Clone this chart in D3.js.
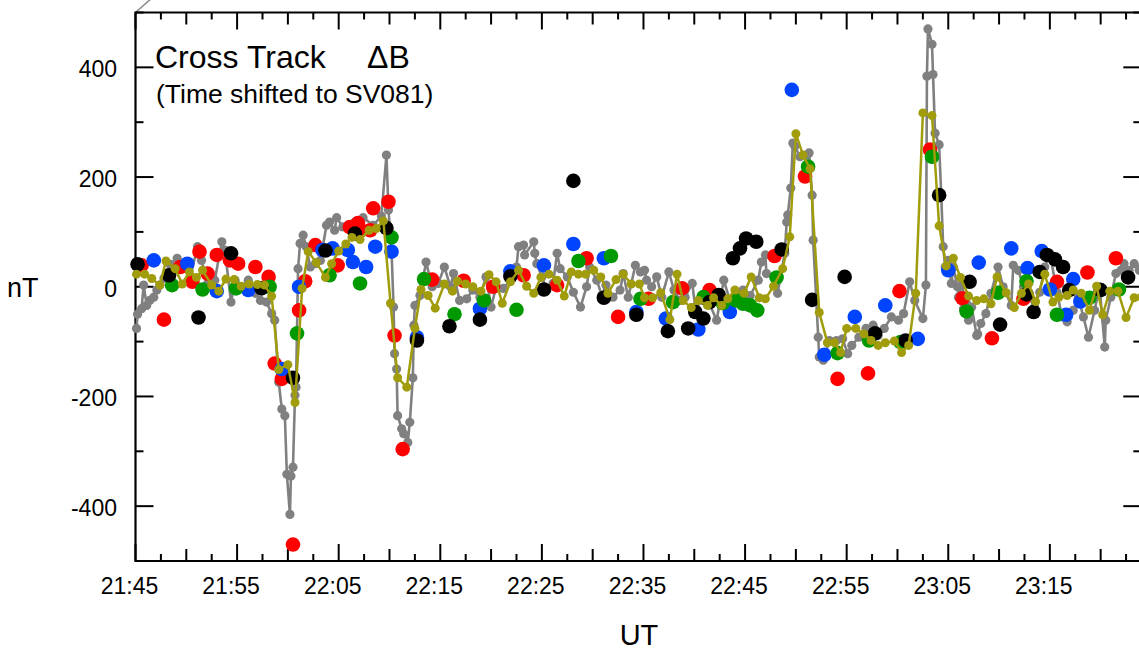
<!DOCTYPE html>
<html><head><meta charset="utf-8">
<script src="https://cdn.jsdelivr.net/npm/d3@7"></script>
<style>
html,body{margin:0;padding:0;background:#fff;}
svg{display:block;font-family:"Liberation Sans",Arial,sans-serif;}
</style></head>
<body><svg id="c" width="1139" height="652"></svg>
<script>
// time in minutes after 21:00 UT, value in nT
const graySeries = [[45.1,-76],[45.2,-50],[45.6,-40],[45.8,3],[46.1,-34],[46.4,-25],[46.8,-19],[47.1,-6],[47.4,3],[47.8,15],[48.4,41],[49.1,52],[49.7,37],[50.4,18],[51.1,73],[51.5,48],[52.1,6],[52.8,12],[53.5,82],[53.8,67],[54.4,-28],[54.8,12],[55.4,0],[56.1,12],[56.8,-12],[57.3,-25],[57.9,-28],[58.4,-49],[58.7,-61],[59.1,-174],[59.4,-223],[59.7,-235],[59.9,-342],[60.2,-415],[60.3,-345],[60.5,-329],[60.7,-198],[60.8,-183],[61.0,33],[61.2,79],[61.5,94],[61.8,73],[62.2,36],[62.7,42],[63.2,48],[63.8,112],[64.1,118],[64.6,103],[64.8,126],[65.4,109],[66.6,118],[67.4,126],[68.4,112],[69.2,129],[69.7,240],[69.9,140],[70.2,67],[70.4,-37],[70.5,-122],[70.7,-150],[70.8,-235],[71.2,-259],[71.4,-268],[71.8,-284],[72.0,-247],[72.3,-166],[72.4,-70],[72.5,-34],[73.0,-16],[73.6,45],[74.2,0],[74.8,6],[75.4,36],[76.0,0],[76.3,24],[76.9,-25],[77.6,-22],[78.2,-6],[78.9,-19],[79.5,18],[80.0,-37],[80.5,0],[81.2,-3],[81.9,12],[82.5,36],[82.7,73],[83.2,76],[83.3,58],[84.2,82],[84.3,61],[84.5,42],[85.0,18],[85.5,-6],[86.1,6],[86.5,61],[86.8,33],[87.5,18],[88.1,-10],[88.8,-37],[89.4,0],[89.7,36],[90.4,12],[90.9,-16],[91.3,3],[92.0,-19],[92.7,-6],[93.0,24],[93.5,-19],[94.2,39],[94.7,27],[95.1,30],[95.3,12],[95.8,0],[96.3,18],[96.8,-19],[97.5,27],[98.0,-6],[98.6,-25],[99.1,-19],[99.8,6],[100.1,-37],[100.8,-25],[101.5,-31],[102.2,-61],[102.9,12],[103.5,-25],[104.2,-12],[104.8,-6],[105.5,-16],[106.3,12],[106.6,45],[107.0,58],[107.1,24],[108.1,9],[108.2,-12],[108.9,61],[109.1,118],[109.2,131],[109.5,180],[109.7,262],[109.9,256],[110.4,237],[111.1,240],[111.3,244],[111.6,167],[111.7,85],[112.2,-92],[112.3,-128],[112.7,-134],[113.3,-98],[114.0,-98],[114.6,-95],[115.1,-122],[115.5,-107],[116.2,-92],[116.9,-76],[117.6,-70],[118.1,-89],[118.7,-76],[119.4,-55],[120.1,-61],[120.6,-49],[121.2,9],[121.7,-25],[122.5,-58],[122.8,3],[122.9,384],[123.0,470],[123.4,442],[123.5,387],[123.7,280],[124.1,259],[124.3,170],[124.5,73],[124.7,36],[125.0,48],[125.3,6],[125.5,36],[125.9,0],[126.0,-19],[126.4,12],[126.5,-40],[126.8,-31],[127.0,-61],[127.3,-37],[127.8,-89],[127.9,-86],[128.2,-67],[128.7,-49],[129.2,-12],[129.9,36],[130.4,0],[131.2,-34],[131.4,39],[131.9,30],[132.4,0],[132.9,-19],[133.5,-37],[134.0,-10],[134.5,36],[135.0,61],[135.7,-10],[136.2,-55],[136.7,-64],[137.3,-43],[137.8,-19],[138.3,-55],[138.8,-92],[139.4,-43],[139.9,0],[140.4,-110],[140.5,-61],[141.0,-19],[141.5,24],[142.0,30],[142.3,42],[142.8,30],[143.3,42],[143.8,30],[144.1,36]];

const oliveSeries = [[45.1,23],[45.9,23],[46.6,15],[47.4,3],[48.0,47],[48.9,33],[49.6,5],[50.3,27],[51.0,17],[51.6,30],[52.5,3],[53.2,-8],[53.9,14],[54.7,13],[55.4,1],[56.2,5],[57.0,4],[57.7,3],[58.4,-17],[59.1,-151],[60.0,-142],[60.7,-211],[61.4,-3],[62.0,64],[62.8,44],[63.7,17],[64.3,42],[65.0,65],[65.7,78],[66.3,90],[67.1,86],[68.0,103],[68.7,106],[69.4,120],[70.1,-30],[70.8,-166],[71.7,-183],[72.5,-76],[73.1,-5],[73.8,-16],[74.5,-39],[75.4,5],[76.2,-8],[76.7,10],[77.5,5],[78.2,0],[79.0,-8],[79.8,22],[80.5,9],[81.1,-30],[81.9,9],[82.7,30],[83.5,1],[84.2,-12],[84.9,17],[85.7,23],[86.5,12],[87.2,-17],[87.9,27],[88.6,23],[89.3,23],[90.1,30],[90.8,18],[91.5,-12],[92.3,13],[93.0,23],[93.8,5],[94.6,5],[95.1,-20],[95.9,-20],[96.7,-11],[97.6,-60],[98.3,23],[98.9,-25],[99.7,-38],[100.4,-25],[101.3,-34],[101.9,-20],[102.7,-34],[103.3,-22],[104.0,-6],[104.9,-12],[105.6,18],[106.4,-20],[107.0,-22],[107.8,1],[108.7,33],[109.4,91],[110.0,279],[110.7,240],[111.4,215],[112.3,-47],[113.1,-102],[113.8,-102],[114.4,-120],[115.0,-76],[115.9,-76],[116.7,-86],[117.4,-98],[118.1,-107],[118.8,-102],[119.7,-99],[120.4,-120],[121.1,-107],[121.8,-12],[122.5,317],[123.4,312],[124.1,111],[124.8,38],[125.5,52],[126.2,17],[127.0,-17],[127.8,-25],[128.5,-22],[129.2,-31],[129.8,18],[130.7,-11],[131.5,-38],[132.2,-12],[132.9,5],[133.6,-27],[134.5,23],[135.3,-28],[135.9,-19],[136.7,-16],[137.3,-6],[138.1,-12],[138.9,-43],[139.6,1],[140.2,-51],[140.9,-8],[141.7,-8],[142.5,-56],[143.3,-20],[144.0,-19]];

const redDots = [[45.6,39],[47.8,-60],[49.4,36],[50.6,9],[51.3,64],[52.1,24],[53.0,58],[54.3,48],[55.1,42],[56.8,36],[58.1,18],[58.7,-140],[59.4,-168],[60.5,-470],[61.1,-43],[61.7,10],[62.7,76],[64.9,39],[66.1,109],[66.9,116],[67.2,103],[68.1,103],[68.4,143],[69.9,155],[70.5,-89],[71.3,-296],[74.2,13],[77.3,11],[80.2,0],[83.2,21],[86.5,3],[89.4,52],[92.5,-55],[95.5,-22],[98.8,-3],[101.5,-6],[107.9,56],[110.9,201],[114.1,-168],[117.1,-158],[120.2,-8],[123.2,250],[126.4,-21],[129.3,-94],[132.4,-22],[135.7,9],[138.7,26],[141.5,52]];

const blueDots = [[46.8,48],[50.1,42],[53.0,-8],[56.1,-6],[59.4,-150],[61.1,0],[63.4,67],[64.4,70],[65.9,67],[66.4,45],[67.7,36],[68.6,73],[70.2,64],[72.7,-92],[78.9,-40],[81.9,28],[85.2,39],[88.1,78],[91.1,52],[94.3,-46],[97.2,-58],[100.4,-78],[103.5,-46],[109.6,359],[112.8,-124],[115.8,-55],[118.8,-34],[122.0,-95],[125.0,30],[128.0,44],[131.2,70],[132.8,34],[134.2,65],[135.0,-5],[136.6,-51],[137.3,14],[138.0,-27]];

const greenDots = [[48.6,3],[51.6,-5],[54.9,-3],[58.2,0],[60.9,-85],[64.1,21],[67.1,6],[70.2,90],[73.4,14],[76.4,-50],[79.3,-25],[82.5,-42],[88.6,47],[91.8,56],[94.7,-22],[97.9,-28],[100.9,-19],[102.8,-30],[104.1,-25],[104.8,-31],[105.5,-34],[106.2,-43],[108.1,17],[111.2,219],[114.1,-121],[117.2,-98],[120.3,-101],[123.4,237],[126.8,-45],[129.9,-11],[132.7,10],[135.7,-51],[138.9,-20],[141.8,-5]];

const blackDots = [[45.2,41],[48.3,21],[51.2,-56],[54.4,61],[57.4,-3],[60.5,-166],[63.7,66],[66.6,97],[69.7,107],[72.7,-98],[75.9,-72],[78.9,-60],[81.9,19],[85.2,-5],[88.1,193],[91.1,-20],[94.3,-51],[97.4,-81],[99.4,-76],[100.1,-46],[100.9,-58],[101.5,-28],[102.4,-15],[103.8,52],[104.5,70],[105.1,88],[106.1,82],[108.6,68],[111.6,-24],[114.8,18],[117.8,-85],[120.8,-98],[124.1,167],[127.1,9],[130.1,-69],[132.7,-14],[133.4,-46],[134.0,27],[134.7,58],[135.5,50],[136.3,36],[136.9,-6],[140.0,-6],[142.7,17]];

const xTickValues = [45,55,65,75,85,95,105,115,125,135];
const xTickLabels = ["21:45","21:55","22:05","22:15","22:25","22:35","22:45","22:55","23:05","23:15"];
const yTickValues = [400,200,0,-200,-400];
const yTickLabels = ["400","200","0","-200","-400"];
const xDomain = [45,144];
const yDomain = [-500,500];

const svg = d3.select("#c");
const L = 135.5, R = 1141.3, T = 12.5, B = 561;
const x = d3.scaleLinear().domain(xDomain).range([L, R]);
const y = d3.scaleLinear().domain(yDomain).range([B, T]);

// 3D frame hint
svg.append("line").attr("x1",L).attr("y1",T).attr("x2",L+17).attr("y2",T-15)
  .attr("stroke","#888").attr("stroke-width",1.5);

// ticks
const minorX = d3.range(45, 144.01, 2.5);
function xLen(v){ const r = Math.round((v-45)*10)%100; return r===0?17:(r===50?12:7); }
const yAll = d3.range(-500, 501, 100);
function yLen(v){ return (Math.abs(v)%200===0)?18:8; }

const axes = svg.append("g").attr("stroke","#000");
minorX.forEach(v=>{
  axes.append("line").attr("x1",x(v)).attr("x2",x(v)).attr("y1",B).attr("y2",B-xLen(v)).attr("stroke-width",2);
  axes.append("line").attr("x1",x(v)).attr("x2",x(v)).attr("y1",T).attr("y2",T+xLen(v)).attr("stroke-width",2);
});
yAll.forEach(v=>{
  axes.append("line").attr("x1",L).attr("x2",L+yLen(v)).attr("y1",y(v)).attr("y2",y(v)).attr("stroke-width",2);
  axes.append("line").attr("x1",R).attr("x2",R-yLen(v)).attr("y1",y(v)).attr("y2",y(v)).attr("stroke-width",2);
});
axes.append("path").attr("fill","none").attr("stroke-width",2.2)
  .attr("d",`M${L},${B}L${L},${T}L${R},${T}L${R},${B}Z`);

// tick labels
svg.append("g").selectAll("text").data(xTickValues).join("text")
  .attr("x",d=>x(d)-6).attr("y",594).attr("text-anchor","middle")
  .attr("font-size",23).text((d,i)=>xTickLabels[i]);
svg.append("g").selectAll("text").data(yTickValues).join("text")
  .attr("x",117).attr("y",d=>y(d)+10).attr("text-anchor","end")
  .attr("font-size",23).text((d,i)=>yTickLabels[i]);

svg.append("text").attr("x",7).attr("y",297).attr("font-size",27).text("nT");
svg.append("text").attr("x",639).attr("y",645).attr("text-anchor","middle").attr("font-size",29).text("UT");

svg.append("text").attr("x",155).attr("y",68).attr("font-size",32).text("Cross Track");
svg.append("text").attr("x",367).attr("y",68).attr("font-size",32).text("\u0394B");
svg.append("text").attr("x",156).attr("y",103).attr("font-size",26.5).text("(Time shifted to SV081)");

// gray series
const line = d3.line().x(d=>x(d[0])).y(d=>y(d[1]));
svg.append("path").datum(graySeries).attr("d",line).attr("fill","none").attr("stroke","#808080").attr("stroke-width",2.6);
svg.append("g").selectAll("circle").data(graySeries).join("circle")
  .attr("cx",d=>x(d[0])).attr("cy",d=>y(d[1])).attr("r",4.6).attr("fill","#808080");

// scatter dots
[[redDots,"#ff0000"],[blueDots,"#0044ff"],[greenDots,"#009a00"],[blackDots,"#000000"]].forEach(([arr,c])=>{
  svg.append("g").selectAll("circle").data(arr).join("circle")
    .attr("cx",d=>x(d[0])).attr("cy",d=>y(d[1])).attr("r",7.3).attr("fill",c);
});

// olive series
const olive = "#a09c0c";
svg.append("path").datum(oliveSeries).attr("d",line).attr("fill","none").attr("stroke",olive).attr("stroke-width",2.5);
svg.append("g").selectAll("circle").data(oliveSeries).join("circle")
  .attr("cx",d=>x(d[0])).attr("cy",d=>y(d[1])).attr("r",4.5).attr("fill",olive);
</script></body></html>
